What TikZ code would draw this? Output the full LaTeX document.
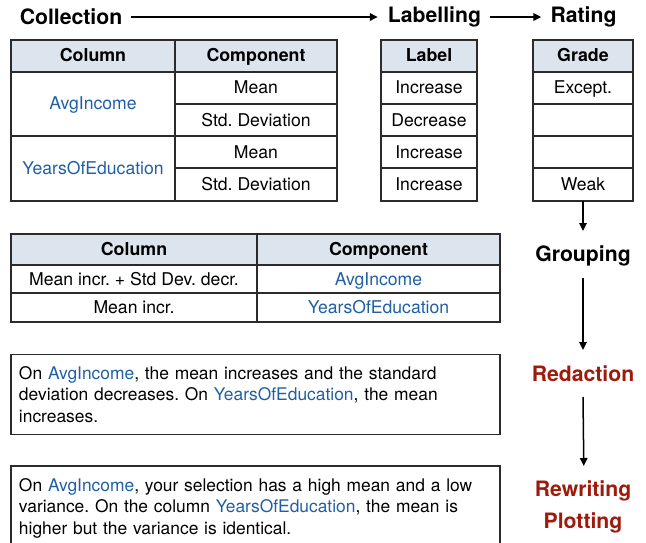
\documentclass[tikz,border=0pt]{standalone}
\usepackage{fontspec}
\setmainfont{TeX Gyre Heros}
\frenchspacing
\usetikzlibrary{arrows.meta}
\definecolor{hdrfill}{HTML}{DCE5EE}
\definecolor{colblue}{HTML}{1F5FA3}
\definecolor{stepred}{HTML}{9E1B0C}
\definecolor{gridline}{HTML}{2B2B2B}
\newcommand{\cn}[1]{\textcolor{colblue}{#1}}
\tikzset{
  cell/.style={draw=gridline, line width=1.4pt, rectangle, inner sep=0pt, outer sep=0pt,
    text height=12.6pt, text depth=0.6pt, font=\fontsize{17.6}{20}\selectfont},
  hcell/.style={cell, fill=hdrfill, font=\fontsize{17.8}{20}\selectfont\bfseries},
  stage/.style={inner sep=0pt, font=\fontsize{21.2}{24}\selectfont\bfseries},
  redstage/.style={stage, text=stepred},
  textbox/.style={draw=gridline, line width=1.4pt, rectangle, inner sep=0pt, outer sep=0pt,
    minimum width=489pt, text width=473pt, align=left,
    font=\fontsize{17.4}{21.5}\selectfont},
  flow/.style={line width=1.8pt, -{Triangle[length=8pt,width=7.5pt]}},
  vflow/.style={line width=1.5pt, -{Triangle[length=8pt,width=7.5pt]}}
}
\begin{document}
\begin{tikzpicture}[x=1pt, y=-1pt]
\useasboundingbox (0,0) rectangle (646,543);
\clip (0,0) rectangle (646,543);

% stage titles along the top
\node[stage] (coll) at (71,17) {Collection};
\node[stage] (lab) at (434.5,17) {Labelling};
\node[stage] (rat) at (583.5,17) {Rating};
\draw[flow, shorten <=9pt, shorten >=10pt] (coll.east) -- (lab.west);
\draw[flow, shorten <=9pt, shorten >=9pt] (lab.east) -- (rat.west);

% collection table
\node[hcell, minimum width=164pt, minimum height=32pt] (h1) at (93,56) {Column};
\node[hcell, minimum width=162pt, minimum height=32pt] (h2) at (256,56) {Component};
\node[cell, minimum width=164pt, minimum height=64pt] (c1) at (93,104) {\cn{AvgIncome}};
\node[cell, minimum width=164pt, minimum height=65pt] (c2) at (93,168.5) {\cn{YearsOfEducation}};
\node[cell, minimum width=162pt, minimum height=32pt] (m1) at (256,88) {Mean};
\node[cell, minimum width=162pt, minimum height=32pt] (s1) at (256,120) {Std. Deviation};
\node[cell, minimum width=162pt, minimum height=32pt] (m2) at (256,152) {Mean};
\node[cell, minimum width=162pt, minimum height=33pt] (s2) at (256,184.5) {Std. Deviation};

% label column
\node[hcell, minimum width=96pt, minimum height=32pt] (lh) at (429,56) {Label};
\node[cell, minimum width=96pt, minimum height=32pt] (l1) at (429,88) {Increase};
\node[cell, minimum width=96pt, minimum height=32pt] (l2) at (429,120) {Decrease};
\node[cell, minimum width=96pt, minimum height=32pt] (l3) at (429,152) {Increase};
\node[cell, minimum width=96pt, minimum height=33pt] (l4) at (429,184.5) {Increase};

% grade column
\node[hcell, minimum width=100pt, minimum height=32pt] (gh) at (583,56) {Grade};
\node[cell, minimum width=100pt, minimum height=32pt] (g1) at (583,88) {Except.};
\node[cell, minimum width=100pt, minimum height=32pt] (g2) at (583,120) {};
\node[cell, minimum width=100pt, minimum height=32pt] (g3) at (583,152) {};
\node[cell, minimum width=100pt, minimum height=33pt] (g4) at (583,184.5) {Weak};

% right-hand pipeline
\node[stage] (grp) at (583,256) {Grouping};
\node[redstage] (red) at (583,374) {Redaction};
\node[redstage] (rew) at (583,491) {Rewriting};
\node[redstage] (plt) at (583,523) {Plotting};
\draw[vflow, shorten >=1pt] (g4.south) -- (583,232);
\coordinate (grpTip) at (583,350);
\draw[vflow] (583,278) -- (grpTip);
\draw[vflow] (583,397) -- (583.8,466);

% grouping table
\node[hcell, minimum width=246pt, minimum height=31pt] (gh1) at (134,249.5) {Column};
\node[hcell, minimum width=243pt, minimum height=31pt] (gh2) at (378.5,249.5) {Component};
\node[cell, minimum width=246pt, minimum height=28pt] (ga1) at (134,279) {Mean incr. + Std Dev. decr.};
\node[cell, minimum width=243pt, minimum height=28pt] (ga2) at (378.5,279) {\cn{AvgIncome}};
\node[cell, minimum width=246pt, minimum height=29pt] (gb1) at (134,307.5) {Mean incr.};
\node[cell, minimum width=243pt, minimum height=29pt] (gb2) at (378.5,307.5) {\cn{YearsOfEducation}};

% redacted and rewritten texts
\node[textbox, minimum height=80pt] (txt1) at (255.5,394.5) {On \cn{AvgIncome}, the mean increases and the standard\\ deviation decreases. On \cn{YearsOfEducation}, the mean\\ increases.};
\node[textbox, minimum height=84pt] (txt2) at (255.5,508) {On \cn{AvgIncome}, your selection has a high mean and a low\\ variance. On the column \cn{YearsOfEducation}, the mean is\\ higher but the variance is identical.};
\end{tikzpicture}
\end{document}
